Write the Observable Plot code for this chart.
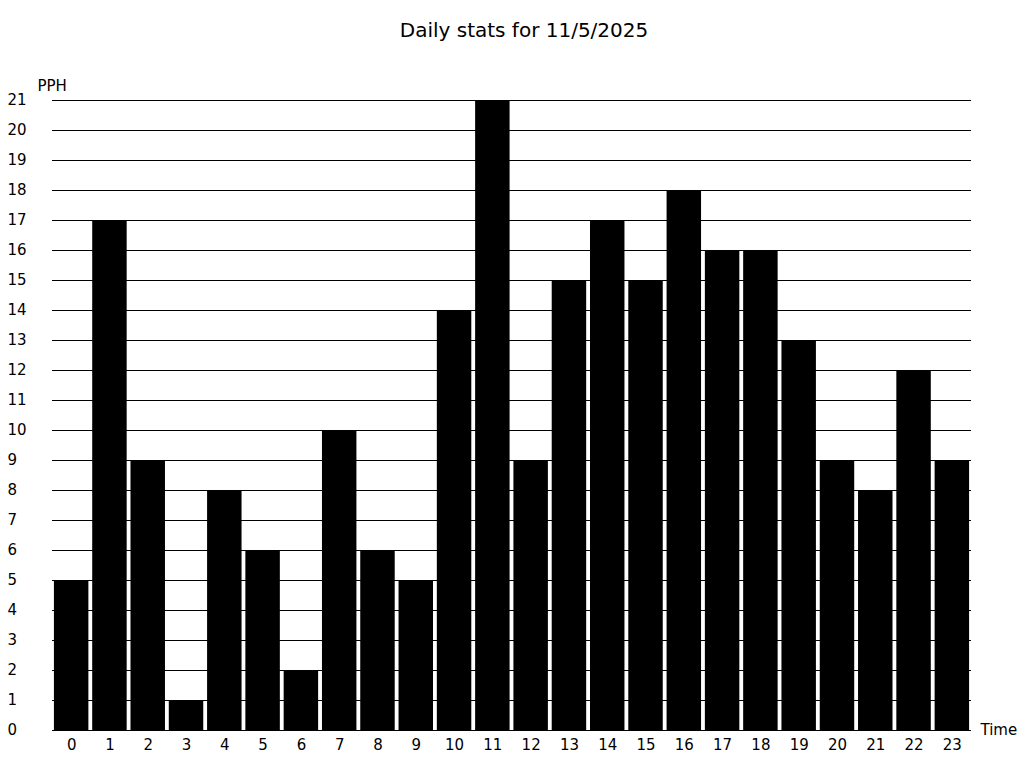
<!DOCTYPE html>
<html>
<head>
<meta charset="utf-8">
<script src="https://cdn.jsdelivr.net/npm/d3@7"></script>
<script src="https://cdn.jsdelivr.net/npm/@observablehq/plot@0.6"></script>
<style>
  html, body { margin: 0; padding: 0; background: #fff; }
  svg { display: block; }
</style>
</head>
<body>
<div id="chart"></div>
<script>
const hours = ["0","1","2","3","4","5","6","7","8","9","10","11","12","13","14","15","16","17","18","19","20","21","22","23"];
const pph = [5,17,9,1,8,6,2,10,6,5,14,21,9,15,17,15,18,16,16,13,9,8,12,9];
const yTicks = [0,1,2,3,4,5,6,7,8,9,10,11,12,13,14,15,16,17,18,19,20,21];
const title = "Daily stats for 11/5/2025";
const yLabel = "PPH";
const xLabel = "Time";

const data = hours.map((h, i) => ({hour: h, value: pph[i]}));

const chart = Plot.plot({
  width: 1024,
  height: 768,
  marginLeft: 52,
  marginRight: 53,
  marginTop: 100,
  marginBottom: 38,
  style: {fontFamily: "DejaVu Sans", fontSize: "15px", color: "black", background: "white"},
  x: {domain: hours, paddingInner: 0.1, paddingOuter: 0.05, align: 0.5, round: false, label: null},
  y: {domain: [0, 21], label: null},
  marks: [
    Plot.barY(data, {x: "hour", y: "value", fill: "black"}),
    Plot.ruleY(yTicks, {stroke: "black", strokeWidth: 1, strokeOpacity: 1}),
    Plot.axisY(yTicks, {tickSize: 0, tickPadding: 3, textAnchor: "start", dx: -42, fontSize: 15, label: null}),
    Plot.axisX({tickSize: 0, tickPadding: 9, fontSize: 15, label: null}),
    Plot.text([title], {frameAnchor: "top", dx: 12, dy: -70, fontSize: 20, fill: "black"}),
    Plot.text([yLabel], {frameAnchor: "top-left", dx: -15, dy: -15, textAnchor: "start", fontSize: 15, fill: "black"}),
    Plot.text([xLabel], {frameAnchor: "bottom-right", dx: 9, dy: 0, textAnchor: "start", fontSize: 15, fill: "black"})
  ]
});
// fine-tune label offsets
chart.querySelectorAll("text").forEach(t => {
  if (t.textContent === title) t.setAttribute("transform", (t.getAttribute("transform") || "") + " translate(0,-8)");
  if (t.textContent === yLabel) t.setAttribute("transform", (t.getAttribute("transform") || "") + " translate(0,-5)");
  if (t.textContent === xLabel) t.setAttribute("transform", (t.getAttribute("transform") || "") + " translate(0,4)");
});
document.getElementById("chart").appendChild(chart);
</script>
</body>
</html>
